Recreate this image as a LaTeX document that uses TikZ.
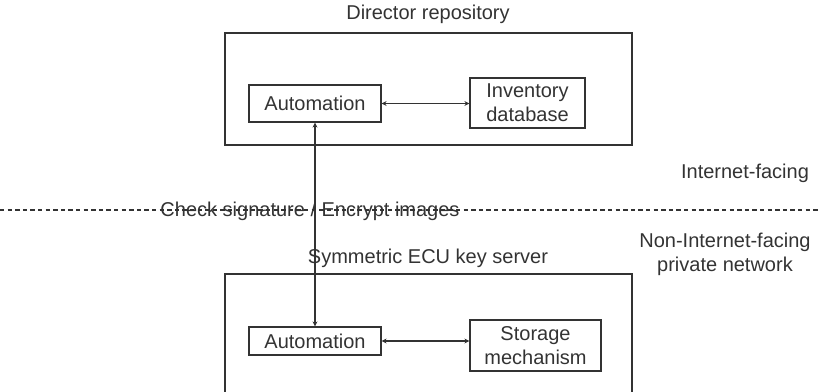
\documentclass[tikz,border=0pt]{standalone}
\usepackage{fontspec}
\setmainfont{Liberation Sans}
\usetikzlibrary{arrows.meta}
\definecolor{ink}{HTML}{333333}
\begin{document}
\begin{tikzpicture}[x=0.5pt,y=-0.5pt,
  every node/.style={font=\fontsize{10}{12}\selectfont, text=ink},
  box/.style={draw=ink, line width=0.6pt, inner sep=0pt, align=center},
  lbl/.style={inner sep=0pt, align=center},
  link/.style={draw=ink, line width=0.55pt, {Stealth[length=2.5pt,width=2.5pt]}-{Stealth[length=2.5pt,width=2.5pt]}}]
\useasboundingbox (0,0) rectangle (819,391);
\clip (0,0) rectangle (819,391);
% containers
\node[box, minimum width=407*0.5pt, minimum height=112*0.5pt] (dir) at (428.5,89) {};
\node[box, minimum width=407*0.5pt, minimum height=160*0.5pt] (ecu) at (428.5,354) {};
\node[lbl] (dirt) at (428,14) {Director repository};
\node[lbl] (ecut) at (428,258) {Symmetric ECU key server};
% inner boxes
\node[box, minimum width=132*0.5pt, minimum height=37*0.5pt] (a1) at (315,103.5) {Automation};
\node[box, minimum width=115*0.5pt, minimum height=50*0.5pt] (inv) at (527.5,103) {Inventory\\database};
\node[box, minimum width=132*0.5pt, minimum height=28*0.5pt] (a2) at (315,341) {Automation};
\node[box, minimum width=131*0.5pt, minimum height=51*0.5pt] (sto) at (535.5,345.5) {Storage\\mechanism};
% zone labels
\node[lbl] (inet) at (745,173) {Internet-facing};
\node[lbl] (priv) at (725,254) {Non-Internet-facing\\private network};
\node[lbl] (chk) at (310,211) {Check signature / Encrypt images};
% boundary
\coordinate (bl) at (0,210);
\coordinate (br) at (819,210);
\draw[ink, line width=0.55pt, dash pattern=on 2.2pt off 1.6pt] (bl) -- (br);
% connectors
\draw[link] (a1.east) -- (inv.west |- a1.east);
\draw[link] (a2.east) -- (sto.west |- a2.east);
\draw[link] (a1.south) -- (a2.north);
\end{tikzpicture}
\end{document}
